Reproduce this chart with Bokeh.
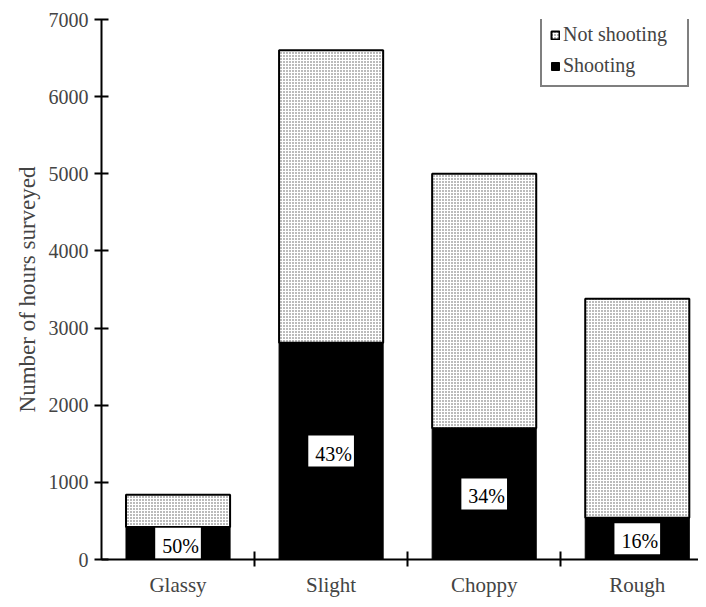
from bokeh.plotting import figure
from bokeh.models import Range1d, FixedTicker, Legend, LegendItem, ColumnDataSource
from bokeh.core.properties import value
from bokeh.embed import file_html
from bokeh.resources import INLINE

categories = ["Glassy", "Slight", "Choppy", "Rough"]
total_hours = [840, 6600, 5000, 3380]
shooting_hours = [420, 2810, 1700, 540]
pct_labels = ["50%", "43%", "34%", "16%"]
y_ticks = [0, 1000, 2000, 3000, 4000, 5000, 6000, 7000]

xs = [i + 0.5 for i in range(len(categories))]
src = ColumnDataSource(dict(
    x=xs,
    total=total_hours,
    shoot=shooting_hours,
    mid=[s / 2 for s in shooting_hours],
    pct=pct_labels,
))

FONT = "Liberation Serif"

p = figure(width=698, height=599, output_backend="svg", toolbar_location=None,
           x_range=Range1d(0, 3.9), y_range=Range1d(0, 7000),
           min_border_left=101, min_border_right=0, min_border_top=19, min_border_bottom=37)
p.outline_line_color = None
p.xgrid.visible = False
p.ygrid.visible = False

r_not = p.vbar(x="x", width=0.68, bottom="shoot", top="total", source=src,
               fill_color="white", hatch_pattern="dot", hatch_color="#555555",
               hatch_scale=3, hatch_weight=1, line_color="black", line_width=2)
r_sh = p.vbar(x="x", width=0.68, bottom=0, top="shoot", source=src,
              fill_color="black", line_color="black", line_width=1)

p.text(x="x", y="mid", text="pct", source=src, text_align="center", text_baseline="middle",
       text_font=value(FONT), text_font_size="20px", text_color="black",
       background_fill_color="white", padding=(7, 2, 7, 2))

# y axis
ya = p.yaxis[0]
ya.ticker = FixedTicker(ticks=y_ticks)
ya.axis_label = "Number of hours surveyed"
ya.axis_label_text_font = FONT
ya.axis_label_text_font_style = "normal"
ya.axis_label_text_font_size = "23px"
ya.axis_label_standoff = 6
ya.major_label_text_font = FONT
ya.major_label_text_font_size = "20px"
ya.major_label_standoff = 6
ya.axis_line_width = 2
ya.major_tick_line_width = 2
ya.major_tick_in = 7
ya.major_tick_out = 7
ya.minor_tick_line_color = None

# x axis
xa = p.xaxis[0]
xa.ticker = FixedTicker(ticks=xs, minor_ticks=[1, 2, 3])
xa.major_label_overrides = {x: c for x, c in zip(xs, categories)}
xa.major_label_text_font = FONT
xa.major_label_text_font_size = "21px"
xa.major_label_standoff = 6
xa.major_tick_line_color = None
xa.axis_line_width = 2
xa.minor_tick_line_width = 2
xa.minor_tick_in = 8
xa.minor_tick_out = 7

legend = Legend(items=[LegendItem(label="Not shooting", renderers=[r_not]),
                       LegendItem(label="Shooting", renderers=[r_sh])],
                location=(439, 472))
legend.border_line_color = "black"
legend.border_line_width = 2
legend.background_fill_color = "white"
legend.label_text_font = FONT
legend.label_text_font_size = "20px"
legend.label_width = 116
legend.glyph_width = 10
legend.glyph_height = 10
legend.label_standoff = 3
legend.spacing = 8
legend.padding = 8
legend.margin = 0
p.add_layout(legend)

open("out.html", "w").write(file_html(p, INLINE))
